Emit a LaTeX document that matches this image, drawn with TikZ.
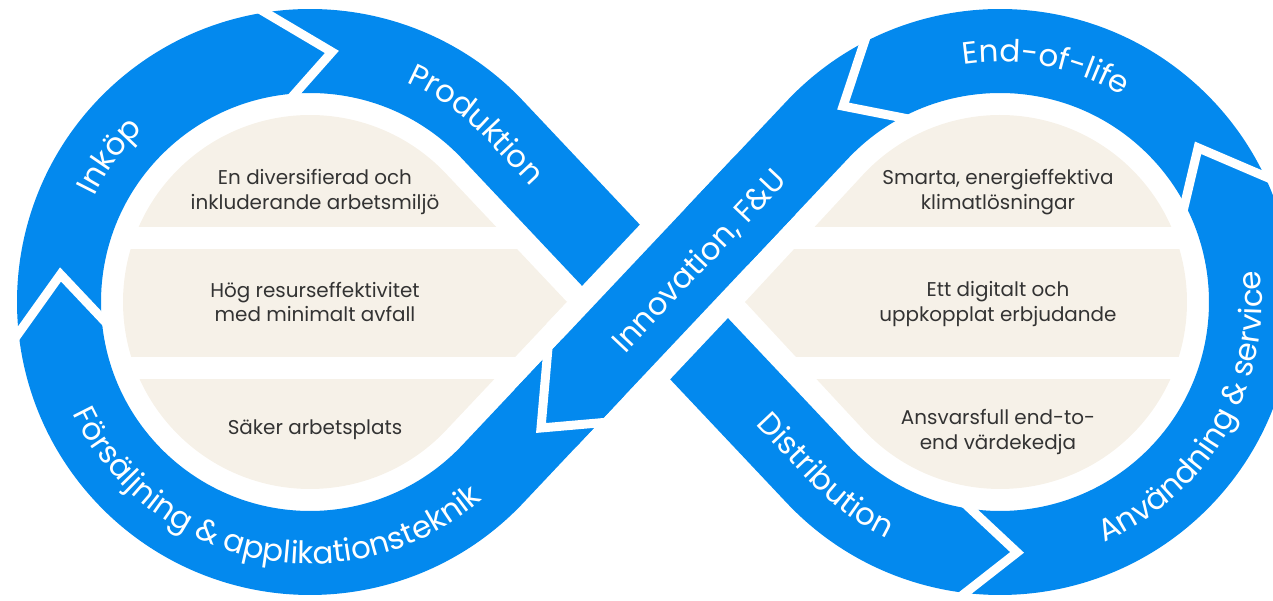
\documentclass[tikz,border=0pt]{standalone}
\usepackage{fontspec}
\newfontfamily\bandfont{Poppins}
\newfontfamily\innerfont{Poppins}
\usetikzlibrary{calc,decorations.text}
\definecolor{bandblue}{RGB}{3,137,238}
\definecolor{beigefill}{RGB}{246,241,232}
\definecolor{txtgray}{RGB}{51,51,51}
\newcommand\bandsize{\bandfont\fontsize{31}{36}\selectfont}
\begin{document}
\begin{tikzpicture}[x=1bp,y=1bp,
  band/.style={draw=bandblue,line width=84bp},
  gapline/.style={draw=white,line width=9bp,line join=miter,miter limit=10},
  innertext/.style={text=txtgray,font=\innerfont\fontsize{20}{24.5}\selectfont,align=center,inner sep=0pt},
  bandlabel/.style={decorate,decoration={text along path,text align=center,text color=white,text={#1}}}
]
\useasboundingbox (0,0) rectangle (1273,601);
\clip (0,0) rectangle (1273,601);
\coordinate (CL) at (310,299);
\coordinate (CR) at (1000,299);
\coordinate (M) at (655,299);

% beige inner regions
\fill[beigefill] (567,299) -- ($(CL)+(43.32:187)$) arc[start angle=43.32,end angle=316.68,radius=187] -- cycle;
\fill[beigefill] (745,299) -- ($(CR)+(223.32:187)$) arc[start angle=223.32,end angle=496.68,radius=187] -- cycle;
\fill[white] (0,352) rectangle (1273,374);
\fill[white] (0,222) rectangle (1273,244);

% blue infinity band
\draw[band] ($(CL)+(-43.32:251)$) -- ($(CR)+(136.68:251)$)
  arc[start angle=136.68,end angle=-136.68,radius=251]
  -- ($(CL)+(43.32:251)$)
  arc[start angle=43.32,end angle=316.68,radius=251] -- cycle;

% crossing: band 2 over band 1
\draw[white,line width=128bp] ($(M)+(226.68:90)$) -- ($(M)+(46.68:90)$);
\draw[bandblue,line width=84bp] ($(M)+(226.68:160)$) -- ($(M)+(46.68:160)$);

% chevron gaps
\coordinate (a1) at ($(CL)+(173.7:251)$); \coordinate (o1) at ($(CL)+(186.1:293)$); \coordinate (i1) at ($(CL)+(184.4:209)$);
\coordinate (a2) at ($(CL)+(85:251)$);    \coordinate (o2) at ($(CL)+(98.8:293)$);  \coordinate (i2) at ($(CL)+(94.1:209)$);
\coordinate (a3) at ($(CR)+(273.9:251)$); \coordinate (o3) at ($(CR)+(263.2:293)$); \coordinate (i3) at ($(CR)+(261.9:209)$);
\coordinate (a4) at ($(CR)+(37.9:251)$);  \coordinate (o4) at ($(CR)+(25.4:293)$);  \coordinate (i4) at ($(CR)+(27.9:209)$);
\coordinate (a5) at ($(CR)+(128.7:251)$); \coordinate (o5) at ($(CR)+(117.6:293)$); \coordinate (i5) at ($(CR)+(118.1:209)$);
\coordinate (a6) at (541,173); \coordinate (o6) at ($(a6)+(85:80)$); \coordinate (i6) at ($(a6)+(5:72)$);
\foreach \k in {1,...,5}{
  \draw[gapline] ($(a\k)!1.2!(o\k)$) -- (a\k) -- ($(a\k)!1.2!(i\k)$);
}
\draw[gapline] (o6) -- (a6) -- (i6);

% inner texts
\node[innertext] (q1) at (315,409) {En diversifierad och\\inkluderande arbetsmiljö};
\node[innertext] (q2) at (315,299) {Hög resurseffektivitet\\med minimalt avfall};
\node[innertext] (q3) at (315,171) {Säker arbetsplats};
\node[innertext] (q4) at (998,409) {Smarta, energieffektiva\\klimatlösningar};
\node[innertext] (q5) at (998,297) {Ett digitalt och\\uppkopplat erbjudande};
\node[innertext] (q6) at (998,169) {Ansvarsfull end-to-\\end värdekedja};

% band labels
\path[bandlabel={|\bandsize|Inköp}] ($(CL)+(175:240)$) arc[start angle=175,end angle=113,radius=240];
\path[bandlabel={|\bandsize|Produktion}] ($(CL)+(86:240)$) arc[start angle=86,end angle=43.32,radius=240] -- ++(-46.68:150);
\path[bandlabel={|\bandsize|Försäljning {\&} applikationsteknik}] ($(CL)+(190:262)$) arc[start angle=190,end angle=326.4,radius=262];
\path[bandlabel={|\bandsize|Innovation, F{\&}U}] ($(M)+(-43.32:14)+(226.68:90)$) -- ($(M)+(-43.32:14)+(46.68:210)$);
\path[bandlabel={|\bandsize|End-of-life}] ($(CR)+(124:240)$) arc[start angle=124,end angle=34,radius=240];
\path[bandlabel={|\bandsize|Användning {\&} service}] ($(CR)+(278:262)$) arc[start angle=278,end angle=382.4,radius=262];
\path[bandlabel={|\bandsize|Distribution}] ($(CR)+(223.32:262)+(133.32:150)$) -- ($(CR)+(223.32:262)$) arc[start angle=223.32,end angle=260,radius=262];
\end{tikzpicture}
\end{document}
